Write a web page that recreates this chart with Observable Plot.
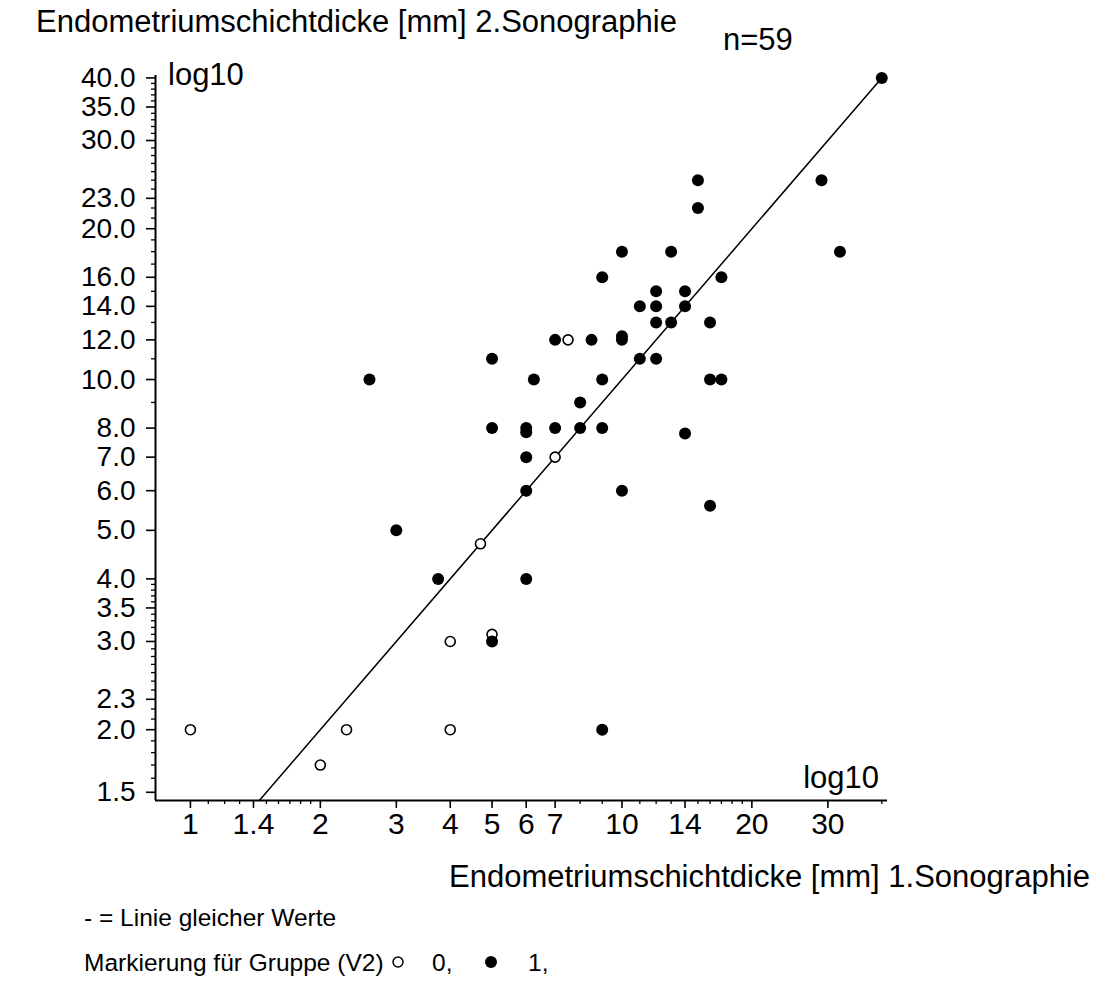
<!DOCTYPE html>
<html>
<head>
<meta charset="utf-8">
<script src="https://cdn.jsdelivr.net/npm/d3@7"></script>
<script src="https://cdn.jsdelivr.net/npm/@observablehq/plot@0.6"></script>
<style>
  html, body { margin: 0; padding: 0; background: #fff; }
  #wrap { position: relative; width: 1105px; height: 1008px; font-family: "Liberation Sans", Arial, sans-serif; color: #000; }
  .t { position: absolute; font-size: 31px; line-height: 31px; white-space: nowrap; }
  .s { position: absolute; font-size: 24.5px; line-height: 25px; white-space: nowrap; }
  .sym { position: absolute; }
</style>
</head>
<body>
<div id="wrap">
  <div id="chart"></div>
  <div class="t" style="left:36px; top:6px;">Endometriumschichtdicke [mm] 2.Sonographie</div>
  <div class="t" style="left:723px; top:24px;">n=59</div>
  <div class="t" style="left:168px; top:59px;">log10</div>
  <div class="t" style="right:226px; top:762px;">log10</div>
  <div class="t" style="right:15px; top:861px;">Endometriumschichtdicke [mm] 1.Sonographie</div>
  <div class="s" style="left:84px; top:905px;">- = Linie gleicher Werte</div>
  <div class="s" style="left:84px; top:950px;">Markierung für Gruppe (V2)</div>
  <svg class="sym" style="left:391px; top:955px;" width="14" height="14"><circle cx="7" cy="7" r="5" fill="#fff" stroke="#000" stroke-width="1.5"/></svg>
  <div class="s" style="left:432px; top:950px;">0,</div>
  <svg class="sym" style="left:484px; top:955px;" width="14" height="14"><circle cx="7" cy="7" r="6" fill="#000"/></svg>
  <div class="s" style="left:528px; top:950px;">1,</div>
</div>
<script>
// Group 0 (open circles)
const g0x = [1, 2, 2.3, 4, 4, 5, 4.7, 7, 7.5];
const g0y = [2, 1.7, 2, 2, 3, 3.1, 4.7, 7, 12];
// Group 1 (filled circles)
const g1x = [2.6, 3, 3.75, 5, 5, 5, 6, 6, 6, 6, 6, 6.25, 7, 7, 8, 8, 8.5, 9, 9, 9, 9, 10, 10, 10, 10,
             11, 11, 12, 12, 12, 12, 13, 13, 14, 14, 14, 15, 15, 16, 16, 16, 17, 17, 29, 32, 40];
const g1y = [10, 5, 4, 3, 8, 11, 4, 6, 7, 7.85, 8, 10, 8, 12, 8, 9, 12, 2, 8, 10, 16, 6, 12, 12.2, 18,
             11, 14, 11, 13, 14, 15, 13, 18, 7.8, 14, 15, 22, 25, 5.6, 10, 13, 10, 16, 25, 18, 40];
// Axis ticks
const xMajor = [1, 1.4, 2, 3, 4, 5, 6, 7, 10, 14, 20, 30];
const xMinor = [1.1, 1.2, 1.3, 1.5, 1.6, 1.7, 1.8, 1.9, 8, 9, 11, 12, 13, 15, 16, 17, 18, 19, 40];
const yMajor = [1.5, 2, 2.3, 3, 3.5, 4, 5, 6, 7, 8, 10, 12, 14, 16, 20, 23, 30, 35, 40];
const yMinor = [1.6, 1.7, 1.8, 1.9, 2.1, 2.2, 2.4, 2.5, 2.6, 2.7, 2.8, 2.9, 3.1, 3.2, 3.3, 3.4,
                3.6, 3.7, 3.8, 3.9, 9, 11, 13, 15, 17, 18, 19, 21, 22, 24, 25, 26, 27, 28, 29,
                31, 32, 33, 34, 36, 37, 38, 39];
const xDomain = [0.83, 41.24];
const yDomain = [1.4444, 40.45];
// line of equal values (identity)
const identity = [1.4444, 40.45];

const group0 = g0x.map((x, i) => ({x, y: g0y[i]}));
const group1 = g1x.map((x, i) => ({x, y: g1y[i]}));

const chart = Plot.plot({
  width: 1105,
  height: 1008,
  marginLeft: 155,
  marginRight: 218,
  marginTop: 75,
  marginBottom: 208,
  style: {fontFamily: "'Liberation Sans', Arial, sans-serif", fontSize: "30px", color: "#000", background: "transparent"},
  x: {type: "log", domain: xDomain, label: null},
  y: {type: "log", domain: yDomain, label: null},
  marks: [
    Plot.axisX({ticks: xMajor, tickSize: 8, tickPadding: 4, tickFormat: d => String(d), label: null, strokeWidth: 1.6, fontSize: 30}),
    Plot.axisX({ticks: xMinor, tickSize: 4, tickFormat: () => "", label: null, strokeWidth: 1.3}),
    Plot.axisY({ticks: yMajor, tickSize: 9, tickPadding: 11, tickFormat: d => d.toFixed(1), label: null, strokeWidth: 1.6, fontSize: 28}),
    Plot.axisY({ticks: yMinor, tickSize: 4, tickFormat: () => "", label: null, strokeWidth: 1.3}),
    Plot.ruleX([xDomain[0]], {strokeWidth: 2}),
    Plot.ruleY([yDomain[0]], {strokeWidth: 2}),
    Plot.line(identity, {x: d => d, y: d => d, stroke: "#000", strokeWidth: 1.5}),
    Plot.dot(group0, {x: "x", y: "y", r: 5, fill: "#fff", stroke: "#000", strokeWidth: 1.6}),
    Plot.dot(group1, {x: "x", y: "y", r: 6, fill: "#000", stroke: "none"})
  ]
});
document.getElementById("chart").appendChild(chart);
</script>
</body>
</html>
